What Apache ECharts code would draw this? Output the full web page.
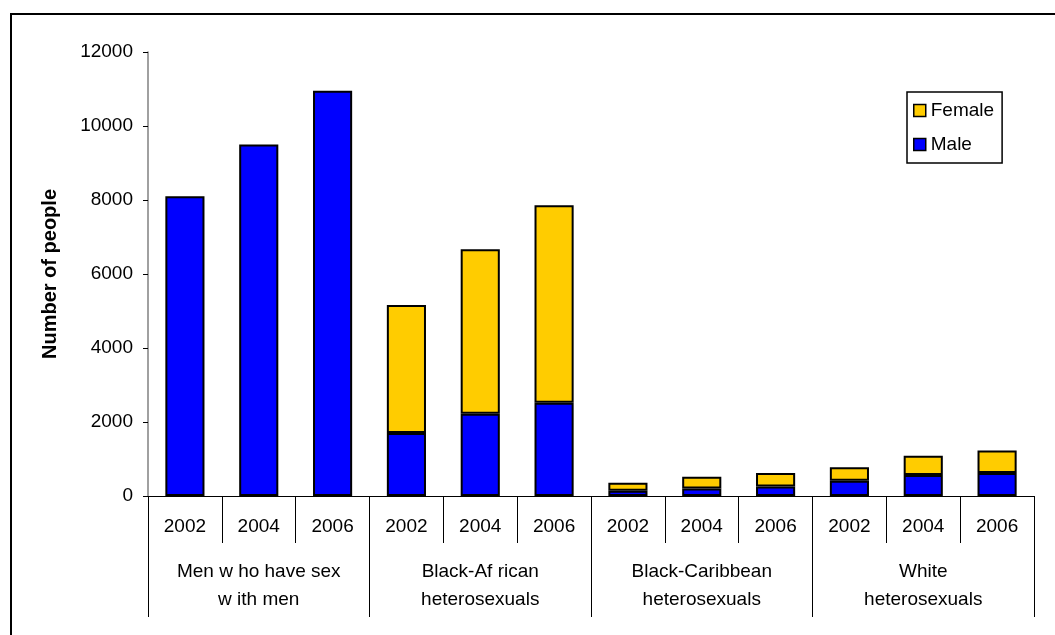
<!DOCTYPE html>
<html>
<head>
<meta charset="utf-8">
<title>New HIV diagnoses by exposure group</title>
<script src="https://cdn.jsdelivr.net/npm/echarts@6/dist/echarts.min.js"></script>
<style>
  html, body { margin: 0; padding: 0; background: #fff; }
  #chart { width: 1055px; height: 635px; }
</style>
</head>
<body>
<div id="chart"></div>
<script>
// Years shown under each bar, repeated for every exposure group
const years = ['2002', '2004', '2006', '2002', '2004', '2006', '2002', '2004', '2006', '2002', '2004', '2006'];
// Exposure groups (second level of the category axis)
const groups = [
  'Men w ho have sex\nw ith men',
  'Black-Af rican\nheterosexuals',
  'Black-Caribbean\nheterosexuals',
  'White\nheterosexuals'
];
// Number of people, per year within each group
const male = [8100, 9500, 10950, 1700, 2220, 2520, 140, 200, 260, 410, 570, 620];
const female = [null, null, null, 3460, 4450, 5340, 220, 320, 360, 370, 520, 610];
// Value axis ticks
const yMin = 0, yMax = 12000, yStep = 2000;

const FONT = "'Liberation Sans', Arial, sans-serif";
const chart = echarts.init(document.getElementById('chart'), null, { renderer: 'canvas' });

chart.setOption({
  animation: false,
  backgroundColor: '#ffffff',
  textStyle: { fontFamily: FONT, color: '#000' },
  grid: { left: 148, right: 21, top: 52, bottom: 139, containLabel: false },
  graphic: [{
    type: 'rect',
    shape: { x: 11, y: 14, width: 1200, height: 800 },
    style: { fill: 'none', stroke: '#000', lineWidth: 2 },
    silent: true
  }],
  legend: {
    orient: 'vertical',
    left: 907,
    top: 92,
    data: ['Female', 'Male'],
    backgroundColor: '#fff',
    borderColor: '#000',
    borderWidth: 1.5,
    padding: [9, 8, 9, 6],
    itemGap: 15,
    itemWidth: 12,
    itemHeight: 12,
    icon: 'rect',
    itemStyle: { borderColor: '#000', borderWidth: 1.5 },
    textStyle: { fontFamily: FONT, fontSize: 19, color: '#000' }
  },
  xAxis: [{
    type: 'category',
    data: years,
    position: 'bottom',
    axisLine: { show: true, lineStyle: { color: '#000', width: 1 } },
    axisTick: { show: true, interval: 0, length: 47, alignWithLabel: false, lineStyle: { color: '#000', width: 1 } },
    axisLabel: { interval: 0, margin: 21, fontSize: 19, color: '#000', fontFamily: FONT },
    splitLine: { show: false }
  }, {
    type: 'category',
    data: groups,
    position: 'bottom',
    axisLine: { show: false },
    axisTick: { show: true, interval: 0, length: 121, alignWithLabel: false, lineStyle: { color: '#000', width: 1 } },
    axisLabel: { interval: 0, margin: 62, fontSize: 19, lineHeight: 28, color: '#000', fontFamily: FONT, align: 'center' },
    splitLine: { show: false }
  }],
  yAxis: {
    type: 'value',
    min: yMin,
    max: yMax,
    interval: yStep,
    name: 'Number of people',
    nameLocation: 'middle',
    nameGap: 88,
    nameRotate: 90,
    nameTextStyle: { fontFamily: FONT, fontSize: 20, fontWeight: 'bold', color: '#000' },
    axisLine: { show: true, lineStyle: { color: '#808080', width: 1.5 } },
    axisTick: { show: true, length: 5, lineStyle: { color: '#000', width: 1 } },
    axisLabel: { margin: 15, fontSize: 19, color: '#000', fontFamily: FONT, formatter: v => String(v) },
    splitLine: { show: false }
  },
  series: [{
    name: 'Male',
    type: 'bar',
    stack: 'total',
    xAxisIndex: 0,
    data: male,
    barWidth: '53%',
    itemStyle: { color: '#0000FF', borderColor: '#000', borderWidth: 2 }
  }, {
    name: 'Female',
    type: 'bar',
    stack: 'total',
    xAxisIndex: 0,
    data: female,
    barWidth: '53%',
    itemStyle: { color: '#FFCC00', borderColor: '#000', borderWidth: 2 }
  }]
});
</script>
</body>
</html>
